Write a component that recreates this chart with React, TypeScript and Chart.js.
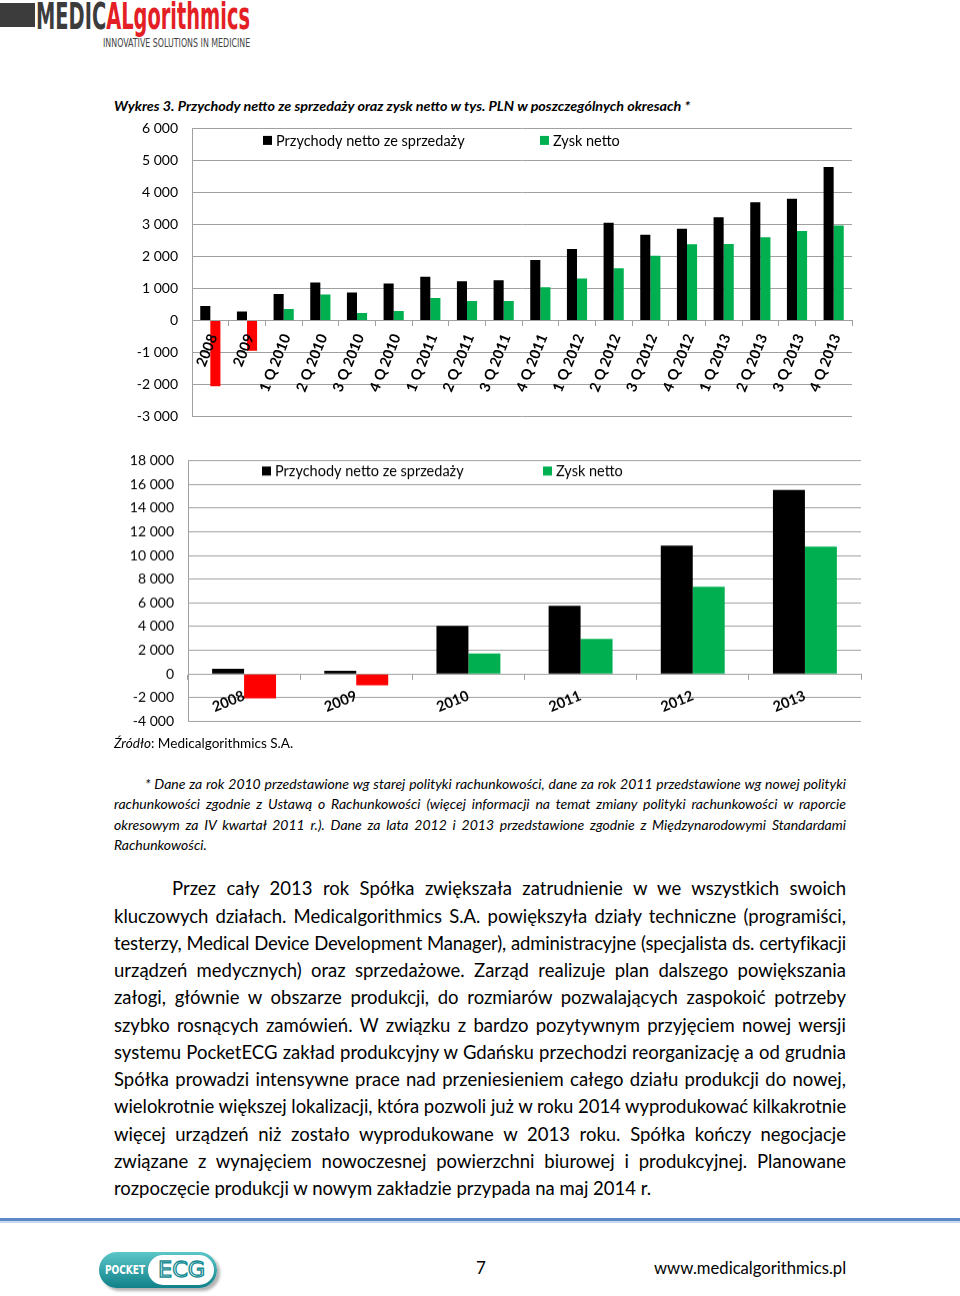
import React, { useEffect, useLayoutEffect, useRef } from 'react';
import { Chart, registerables } from 'chart.js';

Chart.register(...registerables);

// ---------- data ----------
const seriesNames = ['Przychody netto ze sprzedaży', 'Zysk netto'];

const quarterLabels = [
  '2008', '2009', '1 Q 2010', '2 Q 2010', '3 Q 2010', '4 Q 2010',
  '1 Q 2011', '2 Q 2011', '3 Q 2011', '4 Q 2011', '1 Q 2012', '2 Q 2012',
  '3 Q 2012', '4 Q 2012', '1 Q 2013', '2 Q 2013', '3 Q 2013', '4 Q 2013',
];
const quarterRevenue = [450, 280, 825, 1186, 876, 1155, 1371, 1227, 1258, 1887, 2237, 3052, 2680, 2866, 3227, 3691, 3804, 4794];
const quarterProfit = [-2050, -940, 360, 814, 237, 300, 701, 608, 608, 1041, 1309, 1629, 2021, 2381, 2392, 2598, 2794, 2969];
const quarterTicks = [-3000, 6000, 1000]; // min, max, step

const yearLabels = ['2008', '2009', '2010', '2011', '2012', '2013'];
const yearRevenue = [450, 280, 4060, 5750, 10830, 15520];
const yearProfit = [-2050, -940, 1730, 2970, 7350, 10750];
const yearTicks = [-4000, 18000, 2000];

// ---------- styles ----------
const REVENUE_COLOR = '#000000';
const PROFIT_COLOR = '#00b050';
const LOSS_COLOR = '#ff0000';
const GRID_COLOR = '#a0a0a0';
const FONT = 'Lato, "Noto Sans", sans-serif';
const NARROW = '"Liberation Sans Narrow", "DejaVu Sans Condensed", "Liberation Sans", sans-serif';
const Y_TICK_PAD = 14;
const Y_FONT = 14;
// Chart.js reserves half a label line plus the tick padding above and below the y axis
const V_RESERVE = (Y_FONT * 1.2) / 2 + Y_TICK_PAD;

const footnoteLines = [
  '* Dane za rok 2010 przedstawione wg starej polityki rachunkowości, dane za rok 2011 przedstawione wg nowej polityki',
  'rachunkowości zgodnie z Ustawą o Rachunkowości (więcej informacji na temat zmiany polityki rachunkowości w raporcie',
  'okresowym za IV kwartał 2011 r.). Dane za lata 2012 i 2013 przedstawione zgodnie z Międzynarodowymi Standardami',
  'Rachunkowości.',
];

const bodyLines = [
  'Przez cały 2013 rok Spółka zwiększała zatrudnienie w we wszystkich swoich',
  'kluczowych działach. Medicalgorithmics S.A. powiększyła działy techniczne (programiści,',
  'testerzy, Medical Device Development Manager), administracyjne (specjalista ds. certyfikacji',
  'urządzeń medycznych) oraz sprzedażowe. Zarząd realizuje plan dalszego powiększania',
  'załogi, głównie w obszarze produkcji, do rozmiarów pozwalających zaspokoić potrzeby',
  'szybko rosnących zamówień. W związku z bardzo pozytywnym przyjęciem nowej wersji',
  'systemu PocketECG zakład produkcyjny w Gdańsku przechodzi reorganizację a od grudnia',
  'Spółka prowadzi intensywne prace nad przeniesieniem całego działu produkcji do nowej,',
  'wielokrotnie większej lokalizacji, która pozwoli już w roku 2014 wyprodukować kilkakrotnie',
  'więcej urządzeń niż zostało wyprodukowane w 2013 roku. Spółka kończy negocjacje',
  'związane z wynajęciem nowoczesnej powierzchni biurowej i produkcyjnej. Planowane',
  'rozpoczęcie produkcji w nowym zakładzie przypada na maj 2014 r.',
];

const fmt = (v: number | string) => String(v).replace(/\B(?=(\d{3})+(?!\d))/g, ' ');

const insideLegend = {
  id: 'insideLegend',
  afterDraw(chart: any, _args: any, opts: any) {
    const { ctx, chartArea } = chart;
    ctx.save();
    ctx.font = `${opts.size}px ${FONT}`;
    ctx.textBaseline = 'middle';
    ctx.textAlign = 'left';
    chart.data.datasets.forEach((ds: any, i: number) => {
      const x = chartArea.left + opts.offsets[i];
      const y = chartArea.top + opts.top;
      ctx.fillStyle = ds.legendColor;
      ctx.fillRect(x, y - 4.5, 9, 9);
      ctx.fillStyle = '#000';
      ctx.fillText(ds.label, x + 13, y + 0.5);
    });
    ctx.restore();
  },
};

type BarProps = {
  labels: string[];
  revenue: number[];
  profit: number[];
  ticks: number[];
  // desired plot-area box in page pixels
  areaLeft: number;
  areaTop: number;
  areaRight: number;
  areaBottom: number;
  yAxisWidth: number;
  rotation: number;
  labelOffset: number;
  labelPadding: number;
  catPct: number;
  legendOffsets: number[];
  legendTop: number;
};

function BarChart(p: BarProps) {
  const ref = useRef<HTMLCanvasElement>(null);
  const left = p.areaLeft - p.yAxisWidth;
  const top = p.areaTop - V_RESERVE;
  const width = p.areaRight + 10 - left;
  const height = p.areaBottom + V_RESERVE - top;
  useEffect(() => {
    if (!ref.current) return;
    const chart = new Chart(ref.current, {
      type: 'bar',
      data: {
        labels: p.labels,
        datasets: [
          { label: seriesNames[0], data: p.revenue, backgroundColor: REVENUE_COLOR, legendColor: REVENUE_COLOR } as any,
          {
            label: seriesNames[1],
            data: p.profit,
            backgroundColor: (c: any) => (c.raw < 0 ? LOSS_COLOR : PROFIT_COLOR),
            legendColor: PROFIT_COLOR,
          } as any,
        ],
      },
      options: {
        responsive: false,
        animation: false,
        layout: { padding: { top: 0, bottom: 0, left: 0, right: 10 } },
        datasets: { bar: { categoryPercentage: p.catPct, barPercentage: 1 } },
        plugins: {
          legend: { display: false },
          tooltip: { enabled: false },
          insideLegend: { offsets: p.legendOffsets, top: p.legendTop, size: 14.5 },
        } as any,
        scales: {
          x: {
            position: { y: 0 } as any,
            grid: { drawOnChartArea: false, drawTicks: true, tickLength: 5, color: GRID_COLOR, offset: true },
            border: { color: GRID_COLOR },
            ticks: {
              z: 1,
              autoSkip: false,
              minRotation: p.rotation,
              maxRotation: p.rotation,
              padding: p.labelPadding,
              labelOffset: p.labelOffset,
              color: '#000',
              font: { family: FONT, size: 14.5, weight: 'bold' },
            },
          },
          y: {
            min: p.ticks[0],
            max: p.ticks[1],
            afterFit: (s: any) => {
              s.width = p.yAxisWidth;
            },
            grid: { color: GRID_COLOR, drawTicks: false },
            border: { color: GRID_COLOR },
            ticks: {
              stepSize: p.ticks[2],
              padding: Y_TICK_PAD,
              color: '#000',
              font: { family: FONT, size: Y_FONT, lineHeight: 1.2 },
              callback: (v: any) => fmt(v),
            },
          },
        },
      },
      plugins: [insideLegend as any],
    });
    return () => chart.destroy();
  }, []);
  return (
    <canvas
      ref={ref}
      width={width}
      height={height}
      style={{ position: 'absolute', left, top, width, height }}
    />
  );
}

function FitText({ width, style, children }: { width: number; style?: React.CSSProperties; children: React.ReactNode }) {
  const ref = useRef<HTMLSpanElement>(null);
  useLayoutEffect(() => {
    const el = ref.current;
    if (!el) return;
    const fit = () => {
      el.style.transform = 'none';
      const w = el.offsetWidth;
      if (w) el.style.transform = `scaleX(${width / w})`;
    };
    fit();
    (document as any).fonts?.ready.then(fit);
  }, [width]);
  return (
    <span ref={ref} style={{ display: 'inline-block', whiteSpace: 'nowrap', transformOrigin: '0 0', ...style }}>
      {children}
    </span>
  );
}

function JLine({ text, width, last, style }: { text: string; width: number; last?: boolean; style?: React.CSSProperties }) {
  const ref = useRef<HTMLDivElement>(null);
  useLayoutEffect(() => {
    const el = ref.current;
    if (!el) return;
    const fit = () => {
      el.style.letterSpacing = '0px';
      let ls = 0;
      while (el.scrollWidth > el.clientWidth + 0.5 && ls > -1.5) {
        ls -= 0.05;
        el.style.letterSpacing = ls + 'px';
      }
    };
    fit();
    (document as any).fonts?.ready.then(fit);
  }, []);
  return (
    <div
      ref={ref}
      style={{
        width,
        whiteSpace: 'nowrap',
        overflow: 'visible',
        textAlign: last ? 'left' : 'justify',
        textAlignLast: last ? 'left' : 'justify',
        ...style,
      }}
    >
      {text}
    </div>
  );
}

export default function App() {
  return (
    <div
      style={{
        position: 'absolute',
        left: 0,
        top: 0,
        width: 960,
        height: 1296,
        background: '#fff',
        color: '#000',
        fontFamily: FONT,
        overflow: 'hidden',
      }}
    >
      {/* header logo */}
      <div style={{ position: 'absolute', left: 0, top: 3, width: 35, height: 24, background: '#3c3c3c' }} />
      <div style={{ position: 'absolute', left: 36, top: -6, fontFamily: NARROW, fontWeight: 'bold', fontSize: 38, lineHeight: '44px' }}>
        <FitText width={214}>
          <span style={{ color: '#3c3c3c' }}>MEDIC</span>
          <span style={{ color: '#e31e24' }}>ALgorithmics</span>
        </FitText>
      </div>
      <div style={{ position: 'absolute', left: 103, top: 36.5, fontFamily: NARROW, fontSize: 12, lineHeight: '12px', color: '#444' }}>
        <FitText width={147}>INNOVATIVE SOLUTIONS IN MEDICINE</FitText>
      </div>

      {/* title */}
      <div style={{ position: 'absolute', left: 114, top: 97.5, fontSize: 13.5, lineHeight: '17px', fontWeight: 'bold', fontStyle: 'italic' }}>
        <FitText width={576}>Wykres 3. Przychody netto ze sprzedaży oraz zysk netto w tys. PLN w poszczególnych okresach *</FitText>
      </div>

      <BarChart
        labels={quarterLabels}
        revenue={quarterRevenue}
        profit={quarterProfit}
        ticks={quarterTicks}
        areaLeft={192}
        areaTop={128.3}
        areaRight={852}
        areaBottom={416.7}
        yAxisWidth={82}
        rotation={68}
        labelOffset={3}
        labelPadding={6}
        catPct={0.55}
        legendOffsets={[71, 348]}
        legendTop={12}
      />

      <BarChart
        labels={yearLabels}
        revenue={yearRevenue}
        profit={yearProfit}
        ticks={yearTicks}
        areaLeft={188}
        areaTop={460.7}
        areaRight={861}
        areaBottom={721.7}
        yAxisWidth={88}
        rotation={22}
        labelOffset={0}
        labelPadding={8}
        catPct={0.57}
        legendOffsets={[74, 355]}
        legendTop={10.5}
      />

      {/* source */}
      <div style={{ position: 'absolute', left: 114, top: 734, fontSize: 13.5, lineHeight: '18px' }}>
        <FitText width={179}>
          <i>Źródło</i>: Medicalgorithmics S.A.
        </FitText>
      </div>

      {/* footnote */}
      <div style={{ position: 'absolute', left: 114, top: 773.8, fontSize: 14, lineHeight: '20.4px', fontStyle: 'italic' }}>
        {footnoteLines.map((t, i) => (
          <JLine
            key={i}
            text={t}
            width={i === 0 ? 701 : 732}
            last={i === footnoteLines.length - 1}
            style={i === 0 ? { marginLeft: 31 } : undefined}
          />
        ))}
      </div>

      {/* body paragraph */}
      <div style={{ position: 'absolute', left: 114, top: 875.4, fontSize: 18.5, lineHeight: '27.23px' }}>
        {bodyLines.map((t, i) => (
          <JLine
            key={i}
            text={t}
            width={i === 0 ? 674 : 732}
            last={i === bodyLines.length - 1}
            style={i === 0 ? { marginLeft: 58 } : undefined}
          />
        ))}
      </div>

      {/* footer */}
      <div style={{ position: 'absolute', left: 0, top: 1218, width: 960, height: 3, background: '#5b89c8' }} />
      <div style={{ position: 'absolute', left: 0, top: 1221, width: 960, height: 2, background: '#c9d7ec' }} />

      <div
        style={{
          position: 'absolute',
          left: 99,
          top: 1252,
          width: 118,
          height: 36,
          borderRadius: 18,
          background: 'linear-gradient(#5cc6c8, #0f8189)',
          boxShadow: '3px 3px 3px rgba(0,0,0,0.3)',
        }}
      >
        <div style={{ position: 'absolute', left: 6, top: 11, fontFamily: NARROW, fontWeight: 'bold', fontSize: 12.5, lineHeight: '14px', color: '#fff' }}>
          <FitText width={40}>POCKET</FitText>
        </div>
        <div style={{ position: 'absolute', left: 49, top: 3, width: 66, height: 30, borderRadius: 15, background: '#fff' }}>
          <div
            style={{
              position: 'absolute',
              left: 10,
              top: 4,
              fontFamily: '"DejaVu Sans", sans-serif',
              fontSize: 21,
              lineHeight: '22px',
              color: '#fff',
              WebkitTextStroke: '1.3px #168c94',
            } as any}
          >
            <FitText width={47}>ECG</FitText>
          </div>
        </div>
      </div>

      <div style={{ position: 'absolute', left: 476, top: 1257, fontSize: 17, lineHeight: '22px' }}>7</div>
      <div style={{ position: 'absolute', left: 654, top: 1257, fontSize: 17, lineHeight: '22px' }}>
        <FitText width={192}>www.medicalgorithmics.pl</FitText>
      </div>
    </div>
  );
}
